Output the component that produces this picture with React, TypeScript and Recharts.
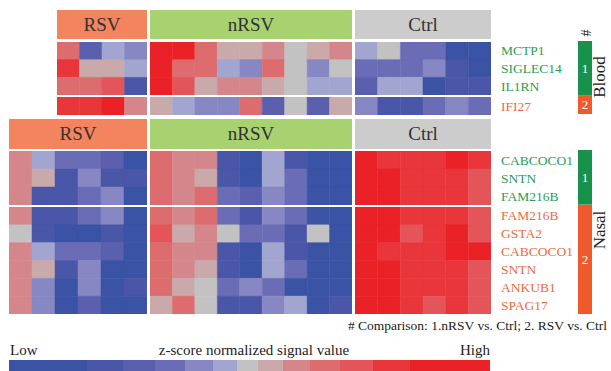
import { BarChart, Bar, XAxis, YAxis, Cell, LabelList } from 'recharts'

const serif = '"Liberation Serif", "Times New Roman", serif'

// 13-step blue -> gray -> red scale, index 0 = Low, 12 = High
const palette = [
  '#3a53a4', '#4a56a8', '#5a5fae', '#6a6db6', '#8787c3', '#a3a5d1', '#c2c2c2',
  '#c9a9a9', '#d4868a', '#dd6c6f', '#e4555a', '#e8363a', '#ea2228',
]
const legendSpan = [78, 36, 32, 30, 28, 24, 21, 25, 27, 30, 33, 37, 80]

const groups = ['RSV', 'nRSV', 'Ctrl']
const groupFill = ['#f4845d', '#a8d26f', '#cccccc']
const labelColor: Record<number, string> = { 1: '#2a9d57', 2: '#f26a3d' }
const barColor: Record<number, string> = { 1: '#17924b', 2: '#ee5a2b' }

const bloodGenes = ['MCTP1', 'SIGLEC14', 'IL1RN', 'IFI27']
const bloodComparison = [1, 1, 1, 2]
const bloodRSV = [
  [9, 2, 5, 4],
  [11, 7, 7, 5],
  [9, 9, 10, 1],
  [11, 11, 12, 8],
]
const bloodNRSV = [
  [12, 12, 9, 7, 7, 8, 6, 7, 8],
  [12, 9, 9, 5, 4, 9, 6, 4, 6],
  [12, 10, 7, 8, 8, 7, 6, 5, 5],
  [7, 5, 4, 4, 9, 2, 6, 2, 7],
]
const bloodCtrl = [
  [5, 6, 3, 3, 0, 0],
  [3, 3, 3, 4, 1, 0],
  [2, 5, 5, 0, 1, 1],
  [4, 1, 1, 3, 4, 3],
]

const nasalGenes = ['CABCOCO1', 'SNTN', 'FAM216B', 'FAM216B', 'GSTA2', 'CABCOCO1', 'SNTN', 'ANKUB1', 'SPAG17']
const nasalComparison = [1, 1, 1, 2, 2, 2, 2, 2, 2]
const nasalRSV = [
  [8, 5, 3, 3, 2, 0],
  [8, 7, 1, 4, 1, 1],
  [8, 1, 1, 3, 4, 0],
  [8, 1, 1, 3, 4, 0],
  [6, 1, 0, 0, 1, 0],
  [8, 5, 3, 3, 2, 0],
  [8, 7, 1, 4, 0, 0],
  [8, 4, 0, 4, 0, 1],
  [8, 4, 0, 2, 0, 0],
]
const nasalNRSV = [
  [9, 8, 8, 1, 0, 5, 1, 0, 0],
  [9, 8, 7, 1, 0, 5, 3, 0, 0],
  [9, 8, 9, 3, 2, 4, 3, 0, 0],
  [9, 8, 9, 3, 1, 4, 3, 0, 0],
  [10, 7, 8, 6, 3, 3, 1, 6, 0],
  [9, 8, 8, 1, 0, 5, 1, 0, 0],
  [9, 8, 7, 1, 0, 5, 3, 0, 0],
  [9, 7, 6, 3, 4, 3, 0, 0, 0],
  [7, 9, 6, 1, 1, 4, 5, 0, 1],
]
const nasalCtrl = [
  [12, 11, 11, 11, 12, 11],
  [12, 12, 11, 11, 11, 10],
  [12, 12, 11, 11, 11, 10],
  [12, 12, 11, 11, 11, 10],
  [12, 12, 10, 11, 12, 10],
  [12, 11, 11, 11, 12, 12],
  [12, 12, 11, 11, 11, 10],
  [12, 12, 11, 11, 11, 10],
  [12, 12, 11, 10, 11, 10],
]

const noMargin = { top: 0, right: 0, bottom: 0, left: 0 }

function HeatBlock({ rows, left, top, width, height, genes, comps }: any) {
  const ncol = rows[0].length
  const data = rows.map((r: number[], i: number) => {
    const d: Record<string, number> = { row: i }
    r.forEach((_, j) => { d['c' + j] = 1 })
    return d
  })
  const labelW = genes ? 110 : 0
  return (
    <div style={{ position: 'absolute', left, top }}>
      <BarChart width={width + labelW} height={height} data={data} layout="vertical"
        margin={noMargin} barCategoryGap={0} barGap={0}>
        <XAxis type="number" domain={[0, ncol]} allowDataOverflow hide />
        <YAxis
          type="category"
          dataKey="row"
          hide={!genes}
          orientation="right"
          width={labelW}
          axisLine={false}
          tickLine={false}
          tickSize={0}
          tickMargin={10}
          interval={0}
          tick={(p: any) => (
            <text x={p.x} y={p.y} dy={4.5} textAnchor="start" fontSize={13.5} fontFamily={serif}
              fill={labelColor[comps[p.payload.value]]}>
              {genes[p.payload.value]}
            </text>
          )}
        />
        {Array.from({ length: ncol }, (_, j) => (
          <Bar key={j} dataKey={'c' + j} stackId="s" isAnimationActive={false}>
            {rows.map((r: number[], i: number) => (
              <Cell key={i} fill={palette[r[j]]} stroke={palette[r[j]]} strokeWidth={0.5} />
            ))}
          </Bar>
        ))}
      </BarChart>
    </div>
  )
}

function Header({ label, fill, left, top, width, height }: any) {
  return (
    <div style={{
      position: 'absolute', left, top, width, height, background: fill, color: '#333',
      fontFamily: serif, fontSize: 19, lineHeight: height + 'px', textAlign: 'center',
    }}>
      {label}
    </div>
  )
}

function SideBar({ comps, left, top, height }: any) {
  const data = [{
    k: 'side',
    g1: comps.filter((c: number) => c === 1).length,
    g2: comps.filter((c: number) => c === 2).length,
  }]
  return (
    <div style={{ position: 'absolute', left, top }}>
      <BarChart width={14} height={height} data={data} margin={noMargin} barCategoryGap={0}>
        <XAxis dataKey="k" hide />
        <YAxis type="number" domain={[0, comps.length]} reversed hide />
        {[1, 2].map((g) => (
          <Bar key={g} dataKey={'g' + g} stackId="s" fill={barColor[g]} isAnimationActive={false}>
            <LabelList position="center" formatter={() => String(g)} fill="#fff" fontSize={13} fontFamily={serif} />
          </Bar>
        ))}
      </BarChart>
    </div>
  )
}

function HeatMap({ genes, comps, blocks, headerTop, headerH, splits }: any) {
  // splits: row groups, each drawn as its own strip
  const out: any[] = []
  blocks.forEach((b: any, gi: number) => {
    out.push(<Header key={'h' + gi} label={groups[gi]} fill={groupFill[gi]} left={b.left} top={headerTop} width={b.width} height={headerH} />)
    splits.forEach((s: any, si: number) => {
      const last = gi === blocks.length - 1
      out.push(
        <HeatBlock key={gi + '-' + si} rows={b.rows.slice(s.from, s.to)} left={b.left} top={s.top}
          width={b.width} height={s.height}
          genes={last ? genes.slice(s.from, s.to) : undefined}
          comps={last ? comps.slice(s.from, s.to) : undefined} />
      )
    })
  })
  return <>{out}</>
}

function Legend() {
  const row: Record<string, any> = { k: 'legend' }
  legendSpan.forEach((w, i) => { row['s' + i] = w })
  const total = legendSpan.reduce((a, b) => a + b, 0)
  return (
    <div style={{ position: 'absolute', left: 9, top: 360 }}>
      <BarChart width={481} height={12} data={[row]} layout="vertical" margin={noMargin} barCategoryGap={0}>
        <XAxis type="number" domain={[0, total]} allowDataOverflow hide />
        <YAxis type="category" dataKey="k" hide />
        {legendSpan.map((_, i) => (
          <Bar key={i} dataKey={'s' + i} stackId="s" fill={palette[i]} isAnimationActive={false} />
        ))}
      </BarChart>
    </div>
  )
}

const textStyle = { position: 'absolute' as const, fontFamily: serif, color: '#222', whiteSpace: 'nowrap' as const }

export default function App() {
  return (
    <div style={{ position: 'absolute', left: 0, top: 0, width: 611, height: 371, background: '#fff', overflow: 'hidden' }}>
      <HeatMap
        genes={bloodGenes}
        comps={bloodComparison}
        headerTop={10}
        headerH={29}
        blocks={[
          { rows: bloodRSV, left: 57, width: 90 },
          { rows: bloodNRSV, left: 150, width: 202 },
          { rows: bloodCtrl, left: 355, width: 136 },
        ]}
        splits={[
          { from: 0, to: 3, top: 42, height: 53 },
          { from: 3, to: 4, top: 97, height: 18 },
        ]}
      />
      <HeatMap
        genes={nasalGenes}
        comps={nasalComparison}
        headerTop={119}
        headerH={30}
        blocks={[
          { rows: nasalRSV, left: 9, width: 138 },
          { rows: nasalNRSV, left: 150, width: 202 },
          { rows: nasalCtrl, left: 355, width: 136 },
        ]}
        splits={[
          { from: 0, to: 3, top: 151, height: 54 },
          { from: 3, to: 9, top: 207, height: 107 },
        ]}
      />
      <SideBar comps={bloodComparison} left={578} top={41} height={73} />
      <SideBar comps={nasalComparison} left={578} top={150} height={164} />
      <div style={{ ...textStyle, left: 580, top: 24, width: 14, textAlign: 'center', fontSize: 14, lineHeight: '18px', transform: 'rotate(-90deg)' }}>#</div>
      <div style={{ ...textStyle, left: 572, top: 68, width: 56, textAlign: 'center', fontSize: 17, lineHeight: '18px', transform: 'rotate(-90deg)' }}>Blood</div>
      <div style={{ ...textStyle, left: 572, top: 221, width: 56, textAlign: 'center', fontSize: 17, lineHeight: '18px', transform: 'rotate(-90deg)' }}>Nasal</div>
      <div style={{ ...textStyle, left: 250, top: 318, width: 357, textAlign: 'right', fontSize: 13.5, lineHeight: '16px' }}>
        # Comparison: 1.nRSV vs. Ctrl; 2. RSV vs. Ctrl
      </div>
      <div style={{ ...textStyle, left: 10, top: 341, fontSize: 15, lineHeight: '18px' }}>Low</div>
      <div style={{ ...textStyle, left: 104, top: 341, width: 300, textAlign: 'center', fontSize: 15, lineHeight: '18px' }}>z-score normalized signal value</div>
      <div style={{ ...textStyle, left: 390, top: 341, width: 100, textAlign: 'right', fontSize: 15, lineHeight: '18px' }}>High</div>
      <Legend />
    </div>
  )
}
